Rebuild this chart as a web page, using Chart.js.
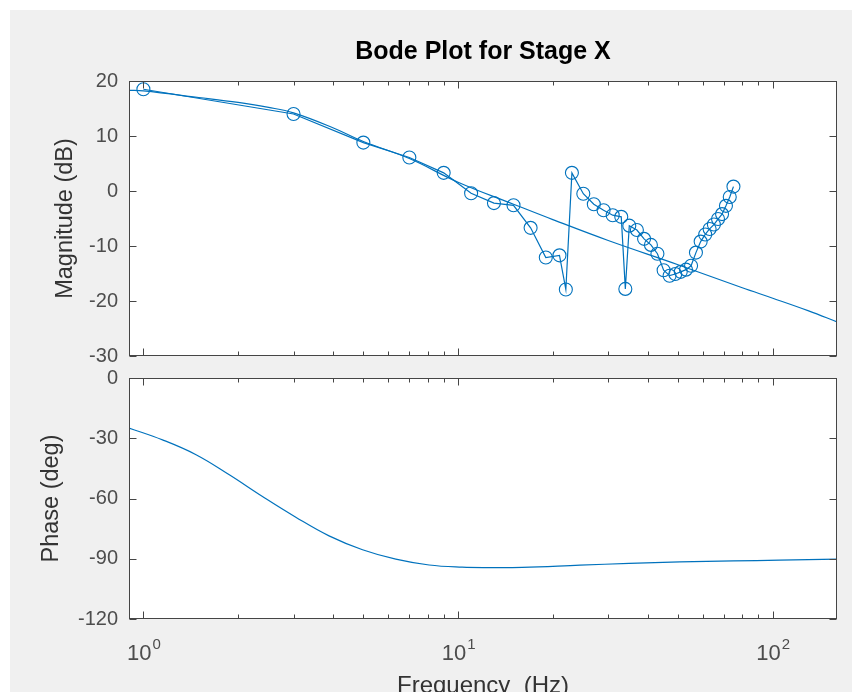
<!DOCTYPE html>
<html>
<head>
<meta charset="utf-8">
<title>Bode Plot for Stage X</title>
<script src="https://cdn.jsdelivr.net/npm/chart.js@4.4.1/dist/chart.umd.min.js"></script>
<style>
  html, body { margin: 0; padding: 0; background: #ffffff; overflow: hidden; }
  #fig { position: relative; width: 852px; height: 692px; overflow: hidden; }
  #bg { position: absolute; left: 10px; top: 10px; right: 0; bottom: 0; background: #f0f0f0; }
  canvas { position: absolute; left: 0; top: 0; }
</style>
</head>
<body>
<div id="fig">
  <div id="bg"></div>
  <canvas id="magChart" width="852" height="692"></canvas>
  <canvas id="phaseChart" width="852" height="720"></canvas>
</div>
<script>
// ==========================================
// 1. DATA
// ==========================================
// measured points (circles)
const measFreq = [1, 3, 5, 7, 9, 11, 13, 15, 17, 19, 21, 22, 23, 25, 27, 29, 31, 33, 34, 35,
                  37, 39, 41, 43, 45, 47, 49, 51, 53, 55, 57, 59, 61, 63, 65, 67, 69, 71, 73, 75];
const measMag  = [18.5, 14.0, 8.8, 6.1, 3.3, -0.4, -2.2, -2.6, -6.7, -12.1, -11.7, -17.9, 3.3, -0.5, -2.4, -3.5, -4.4, -4.7, -17.8, -6.3,
                  -7.1, -8.7, -9.8, -11.4, -14.4, -15.4, -15.1, -14.7, -14.3, -13.6, -11.2, -9.2, -7.9, -6.9, -6.1, -5.1, -4.2, -2.7, -1.1, 0.8];

// model magnitude curve
const modelFreq = [0.9, 1, 1.5, 2, 2.5, 3, 4, 5, 7, 10, 15, 20, 30, 50, 80, 100, 130, 160];
const modelMag  = [18.3, 18.2, 17.0, 16.1, 15.2, 14.2, 11.5, 9.0, 5.9, 1.6, -2.4, -5.2, -9.0, -13.4, -17.6, -19.5, -21.8, -23.8];

// model phase curve
const phaseFreq = [0.9, 1.15, 1.47, 1.875, 2.39, 3.05, 3.89, 4.97, 6.34, 8.09, 10.3, 12.5, 16, 24.4, 35, 50.7, 75, 105, 160];
const phaseDeg  = [-24.9, -30.8, -38.2, -48.2, -59.0, -69.3, -78.6, -85.5, -90.2, -93.1, -94.2, -94.4, -94.3, -93.2, -92.3, -91.6, -91.1, -90.7, -90.2];

// axes
const magTicks = [20, 10, 0, -10, -20, -30];
const phaseTicks = [0, -30, -60, -90, -120];
const xMajorTicks = [1, 10, 100];
const xTickExponents = ['0', '1', '2'];
const xMinorTicks = [2, 3, 4, 5, 6, 7, 8, 9, 20, 30, 40, 50, 60, 70, 80, 90];

const FONT = "'Liberation Sans', Arial, sans-serif";
const BLUE = '#0072bd';
const TICK_COLOR = '#4d4d4d';
const LABEL_COLOR = '#333333';

const pts = (xs, ys) => xs.map((v, i) => ({ x: v, y: ys[i] }));
const fmt = v => (v < 0 ? '-' + Math.abs(v) : String(v));

// ==========================================
// 2. PLUGIN: white axes, box, inward ticks, 10^n labels
// ==========================================
const frame = {
  id: 'frame',
  beforeDraw(chart) {
    const { ctx, chartArea: a } = chart;
    ctx.save();
    ctx.fillStyle = '#ffffff';
    ctx.fillRect(a.left, a.top, a.right - a.left, a.bottom - a.top);
    ctx.restore();
  },
  afterDraw(chart, args, opts) {
    const { ctx, chartArea: a, scales: { x, y } } = chart;
    const L = Math.round(a.left) + 0.5, R = Math.round(a.right) - 0.5;
    const T = Math.round(a.top) + 0.5, B = Math.round(a.bottom) - 0.5;
    ctx.save();
    ctx.strokeStyle = '#454545';
    ctx.lineWidth = 1;
    ctx.beginPath();
    const xTick = (v, len) => {
      const px = Math.round(x.getPixelForValue(v)) + 0.5;
      ctx.moveTo(px, B); ctx.lineTo(px, B - len);
      ctx.moveTo(px, T); ctx.lineTo(px, T + len);
    };
    xMajorTicks.forEach(v => xTick(v, 7));
    xMinorTicks.forEach(v => xTick(v, 4));
    y.ticks.forEach(t => {
      const py = Math.round(y.getPixelForValue(t.value)) + 0.5;
      ctx.moveTo(L, py); ctx.lineTo(L + 7, py);
      ctx.moveTo(R, py); ctx.lineTo(R - 7, py);
    });
    ctx.stroke();
    ctx.strokeRect(L, T, R - L, B - T);

    if (opts.xLabels) {
      ctx.fillStyle = TICK_COLOR;
      ctx.textBaseline = 'alphabetic';
      ctx.textAlign = 'left';
      xMajorTicks.forEach((v, i) => {
        const px = x.getPixelForValue(v);
        ctx.font = '22px ' + FONT;
        const wb = ctx.measureText('10').width;
        ctx.font = '15px ' + FONT;
        const we = ctx.measureText(xTickExponents[i]).width;
        const x0 = px - (wb + we) / 2;
        ctx.font = '22px ' + FONT;
        ctx.fillText('10', x0, a.bottom + 41);
        ctx.font = '15px ' + FONT;
        ctx.fillText(xTickExponents[i], x0 + wb + 1, a.bottom + 30);
      });
    }
    ctx.restore();
  }
};

function xScale(height) {
  return {
    type: 'logarithmic', min: 0.9, max: 160,
    ticks: { display: false },
    grid: { display: false, drawTicks: false },
    border: { display: false },
    afterFit: s => { s.height = height; }
  };
}

function yScale(min, max, tickList, label, titlePad) {
  return {
    min: min, max: max,
    afterBuildTicks: s => { s.ticks = tickList.map(v => ({ value: v })); },
    ticks: { padding: 11, color: TICK_COLOR, font: { family: FONT, size: 20 }, callback: v => fmt(v) },
    grid: { display: false, drawTicks: false },
    border: { display: false },
    title: { display: true, text: label, color: LABEL_COLOR, font: { family: FONT, size: 23.5, lineHeight: 1.2 }, padding: { top: titlePad, bottom: 0 } },
    afterFit: s => { s.width = 129; }
  };
}

// ==========================================
// 3. MAGNITUDE CHART
// ==========================================
new Chart(document.getElementById('magChart'), {
  type: 'line',
  data: {
    datasets: [
      { data: pts(measFreq, measMag), borderColor: BLUE, borderWidth: 1.2, backgroundColor: 'rgba(0,0,0,0)',
        pointStyle: 'circle', pointRadius: 6.5, pointBorderWidth: 1.1, pointBorderColor: BLUE, pointBackgroundColor: 'rgba(0,0,0,0)', tension: 0 },
      { data: pts(modelFreq, modelMag), borderColor: BLUE, borderWidth: 1.2, pointRadius: 0, tension: 0.4 }
    ]
  },
  options: {
    responsive: false, animation: false, devicePixelRatio: 1,
    layout: { padding: { left: 0, right: 15, top: 0, bottom: 0 } },
    plugins: {
      legend: { display: false }, tooltip: { enabled: false },
      title: { display: true, text: 'Bode Plot for Stage X', fullSize: false, color: '#000000',
               font: { family: FONT, size: 25, weight: 'bold', lineHeight: 1.2 }, padding: { top: 37, bottom: 14 } },
      frame: { xLabels: false }
    },
    scales: {
      x: xScale(692 - 356),
      y: yScale(-30, 20, magTicks, 'Magnitude (dB)', 51)
    }
  },
  plugins: [frame]
});

// ==========================================
// 4. PHASE CHART
// ==========================================
const phaseX = xScale(720 - 619);
phaseX.title = { display: true, text: 'Frequency  (Hz)', color: LABEL_COLOR, font: { family: FONT, size: 24, lineHeight: 1.2 }, padding: { top: 0, bottom: 19 } };

new Chart(document.getElementById('phaseChart'), {
  type: 'line',
  data: {
    datasets: [
      { data: pts(phaseFreq, phaseDeg), borderColor: BLUE, borderWidth: 1.2, pointRadius: 0, tension: 0.4 }
    ]
  },
  options: {
    responsive: false, animation: false, devicePixelRatio: 1,
    layout: { padding: { left: 0, right: 15, top: 378, bottom: 0 } },
    plugins: {
      legend: { display: false }, tooltip: { enabled: false },
      frame: { xLabels: true }
    },
    scales: {
      x: phaseX,
      y: yScale(-120, 0, phaseTicks, 'Phase (deg)', 37)
    }
  },
  plugins: [frame]
});
</script>
</body>
</html>
